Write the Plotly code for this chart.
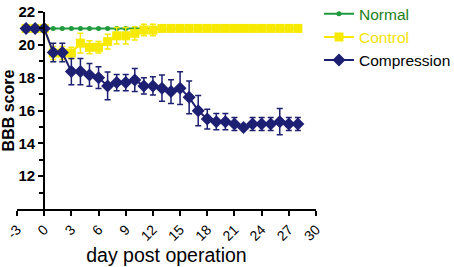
import plotly.graph_objects as go

days = list(range(-2, 29))

normal = [21.0] * len(days)

control = [21.0, 21.0, 21.0, 19.5, 19.5, 19.5, 20.1, 19.85, 19.85, 20.2, 20.55, 20.55, 20.7, 20.9, 20.9] + [21.0] * 16
control_err = [0, 0, 0, 0.4, 0.4, 0.35, 0.6, 0.4, 0.35, 0.45, 0.5, 0.5, 0.4, 0.35, 0.35] + [0.05] * 16

compression = [21.0, 21.0, 21.0, 19.53, 19.53, 18.37, 18.37, 18.17, 18.0, 17.5, 17.7, 17.7, 17.86, 17.5, 17.5,
               17.36, 17.15, 17.36, 16.8, 15.99, 15.48, 15.32, 15.32, 15.18, 14.97, 15.18, 15.18, 15.18, 15.32, 15.18, 15.18]
compression_err = [0, 0, 0, 0.56, 0.56, 0.8, 0.8, 0.7, 0.66, 0.85, 0.5, 0.5, 0.7, 0.5, 0.55,
                   0.8, 0.72, 1.0, 1.0, 0.92, 0.6, 0.5, 0.5, 0.4, 0.1, 0.4, 0.4, 0.4, 0.8, 0.4, 0.4]

x_ticks = list(range(-3, 31, 3))
y_ticks = [12, 14, 16, 18, 20, 22]
y_minor = [11, 13, 15, 17, 19, 21]

GREEN = "#1f9a3c"
YELLOW = "#f7ea00"
NAVY = "#1d1f72"

fig = go.Figure()
fig.add_trace(go.Scatter(
    x=days, y=normal, mode="lines+markers", name="<span style='color:#1a7f1a'>Normal</span>",
    line=dict(color=GREEN, width=2), marker=dict(symbol="circle", size=5, color=GREEN),
))
fig.add_trace(go.Scatter(
    x=days, y=control, mode="lines+markers", name="<span style='color:#f5e400'>Control</span>",
    line=dict(color=YELLOW, width=2), marker=dict(symbol="square", size=9, color=YELLOW),
    error_y=dict(type="data", array=control_err, color=YELLOW, thickness=1.5, width=3),
))
fig.add_trace(go.Scatter(
    x=days, y=compression, mode="lines+markers", name="Compression",
    line=dict(color=NAVY, width=2), marker=dict(symbol="diamond", size=10, color=NAVY),
    error_y=dict(type="data", array=compression_err, color=NAVY, thickness=1.5, width=3),
))

font_family = "Liberation Sans, Arial, sans-serif"
fig.update_layout(
    width=454, height=267,
    margin=dict(l=17, r=138, t=12, b=58, autoexpand=False),
    plot_bgcolor="white", paper_bgcolor="white",
    font=dict(family=font_family, color="black", size=14),
    showlegend=True,
    legend=dict(x=1.01, y=1.075, xanchor="left", yanchor="top", font=dict(size=15.5),
                bgcolor="rgba(0,0,0,0)", tracegroupgap=0, itemwidth=30),
    xaxis=dict(
        range=[-3, 30], tickvals=x_ticks, ticktext=[str(v) for v in x_ticks],
        tickangle=-45, ticks="outside", ticklen=5, tickwidth=2, tickcolor="black",
        showline=True, linecolor="black", linewidth=2, showgrid=False, zeroline=False,
        tickfont=dict(size=14), automargin=False,
        title=dict(text="day post operation", font=dict(size=19.5), standoff=0),
    ),
    yaxis=dict(
        range=[10, 22], tickvals=y_ticks, anchor="free", position=3 / 33,
        ticks="outside", ticklen=5, tickwidth=2, tickcolor="black",
        minor=dict(tickvals=y_minor, ticks="outside", ticklen=4, tickwidth=2, tickcolor="black"),
        showline=True, linecolor="black", linewidth=2, showgrid=False, zeroline=False,
        tickfont=dict(size=15, weight="bold"), automargin=False,
        title=dict(text="BBB score", font=dict(size=16, weight="bold"), standoff=2),
    ),
)

fig.write_html("out.html", config={"displayModeBar": False},
               post_script="document.body.style.margin='0';")
